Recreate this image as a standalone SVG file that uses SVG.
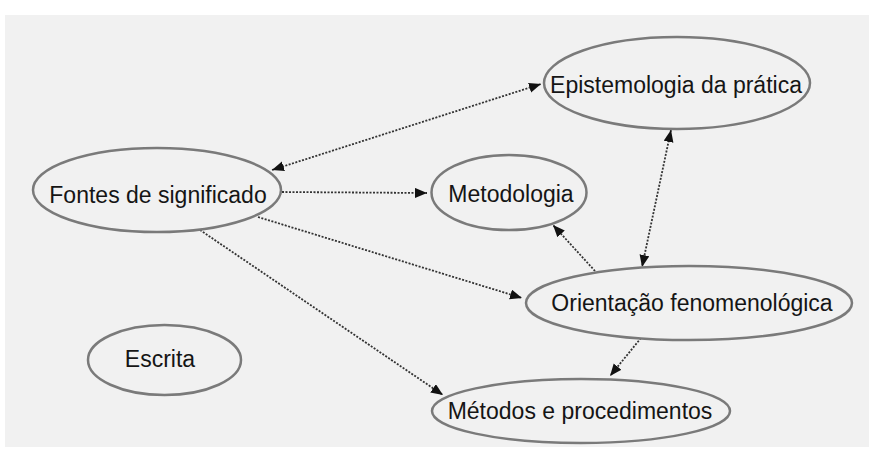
<svg xmlns="http://www.w3.org/2000/svg" width="869" height="460" viewBox="0 0 869 460">
<defs>
<style>
.node ellipse{fill:#f1f1f1;stroke:#7a7a7a;stroke-width:2.5}
.node text{font-family:"Liberation Sans",Arial,sans-serif;font-size:23px;fill:#151515;text-anchor:middle}
.edges line{stroke:#333;stroke-width:1.8;stroke-dasharray:2 1.5;fill:none}
</style>
<marker id="ah" markerUnits="userSpaceOnUse" markerWidth="13" markerHeight="11" refX="12" refY="5" orient="auto-start-reverse" viewBox="0 0 13 11">
<path d="M0,0 L12,5 L0,10 z" fill="#111"/>
</marker>
</defs>
<rect x="0" y="0" width="869" height="460" fill="#ffffff"/>
<rect x="5" y="15" width="864" height="432" fill="#f1f1f1"/>
<g class="edges">
<line x1="272" y1="170" x2="541" y2="84" marker-start="url(#ah)" marker-end="url(#ah)"/>
<line x1="282" y1="192" x2="427" y2="193" marker-end="url(#ah)"/>
<line x1="258" y1="217" x2="522" y2="298" marker-end="url(#ah)"/>
<line x1="200" y1="230" x2="443" y2="395" marker-end="url(#ah)"/>
<line x1="595" y1="271" x2="553" y2="225" marker-end="url(#ah)"/>
<line x1="671" y1="130" x2="642" y2="267" marker-start="url(#ah)" marker-end="url(#ah)"/>
<line x1="641" y1="338" x2="610" y2="376" marker-end="url(#ah)"/>
</g>
<g id="epistemologia" class="node">
<ellipse cx="677" cy="83" rx="133" ry="46"/>
<text x="676" y="93">Epistemologia da prática</text>
</g>
<g id="fontes" class="node">
<ellipse cx="157" cy="190" rx="124" ry="42"/>
<text x="158" y="203">Fontes de significado</text>
</g>
<g id="metodologia" class="node">
<ellipse cx="509" cy="192.5" rx="77.5" ry="37.5"/>
<text x="511" y="202">Metodologia</text>
</g>
<g id="orientacao" class="node">
<ellipse cx="689" cy="303" rx="163" ry="37"/>
<text x="692" y="311">Orientação fenomenológica</text>
</g>
<g id="escrita" class="node">
<ellipse cx="164.5" cy="360" rx="76.5" ry="35"/>
<text x="160" y="367">Escrita</text>
</g>
<g id="metodos" class="node">
<ellipse cx="581" cy="411" rx="149" ry="32"/>
<text x="580" y="419">Métodos e procedimentos</text>
</g>
</svg>
